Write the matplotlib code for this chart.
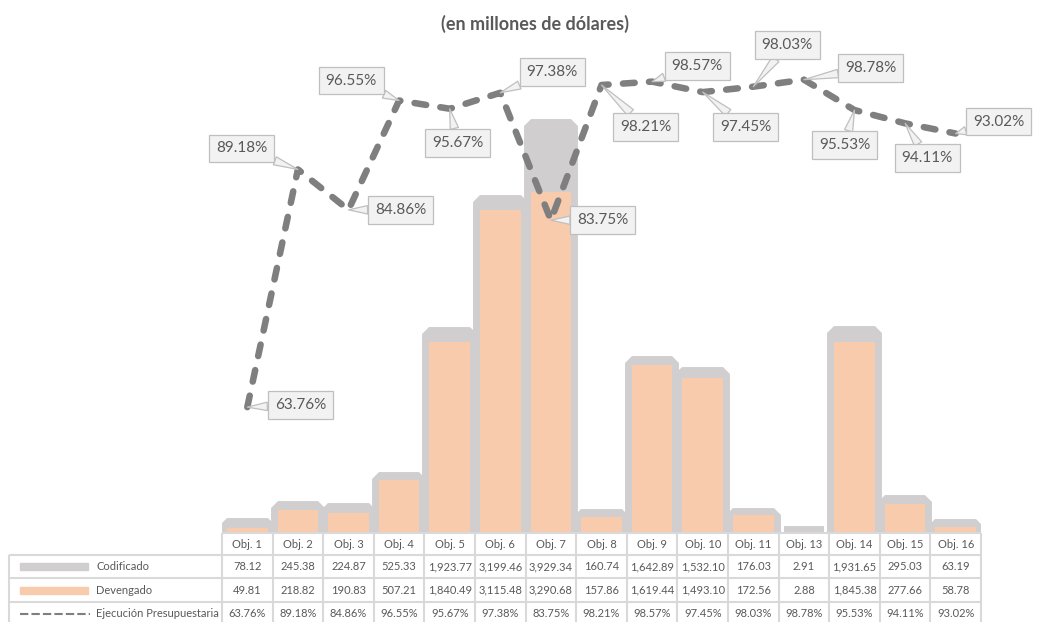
import numpy as np
import matplotlib.pyplot as plt
from matplotlib.patches import Rectangle

plt.rcParams['font.family'] = ['Lato', 'DejaVu Sans']

# datos del grafico
objetivos = ['Obj. 1', 'Obj. 2', 'Obj. 3', 'Obj. 4', 'Obj. 5', 'Obj. 6', 'Obj. 7', 'Obj. 8',
             'Obj. 9', 'Obj. 10', 'Obj. 11', 'Obj. 13', 'Obj. 14', 'Obj. 15', 'Obj. 16']
codificado = [78.12, 245.38, 224.87, 525.33, 1923.77, 3199.46, 3929.34, 160.74,
              1642.89, 1532.10, 176.03, 2.91, 1931.65, 295.03, 63.19]
devengado = [49.81, 218.82, 190.83, 507.21, 1840.49, 3115.48, 3290.68, 157.86,
             1619.44, 1493.10, 172.56, 2.88, 1845.38, 277.66, 58.78]
ejecucion = [63.76, 89.18, 84.86, 96.55, 95.67, 97.38, 83.75, 98.21,
             98.57, 97.45, 98.03, 98.78, 95.53, 94.11, 93.02]

# desplazamiento de cada etiqueta respecto a su punto (pixeles)
desp_etiquetas = [(53, 2), (-56, 21), (52, 0), (-48, 20), (8, -34), (52, 21), (52, 0),
                  (44, -42), (45, 16), (43, -35), (34, 42), (67, 12), (-10, -35),
                  (22, -35), (43, 12)]

W, H = 1044, 622
GRIS_TXT = '#595959'
GRIS_BARRA = '#d0cece'
NARANJA = '#f8cbad'
GRIS_LINEA = '#7f7f7f'
GRIS_BORDE = '#d9d9d9'

n = len(objetivos)
x = np.arange(n)

fig = plt.figure(figsize=(W / 100, H / 100), dpi=100)

# area del grafico
izq, base, ancho = 222, 533, 759
ax = fig.add_axes([izq / W, (H - base) / H, ancho / W, base / H])
ax.bar(x, codificado, width=0.8, color=GRIS_BARRA, edgecolor=GRIS_BARRA,
       linewidth=10, joinstyle='bevel', zorder=1)
ax.bar(x, devengado, width=0.8, color=NARANJA, linewidth=0, zorder=2)
ax.set_xlim(-0.5, n - 0.5)
ax.set_ylim(0, 5145)
ax.axis('off')

ax2 = ax.twinx()
ax2.plot(x, ejecucion, color=GRIS_LINEA, lw=4.7, dashes=(1.8, 2.2),
         dash_capstyle='round', zorder=3)
ax2.set_ylim(50.3, 107.3)
ax2.axis('off')

for xi, v, (dx, dy) in zip(x, ejecucion, desp_etiquetas):
    ax2.annotate(f'{v:.2f}%', xy=(xi, v), xytext=(dx, dy), textcoords='offset pixels',
                 ha='center', va='center', fontsize=11, color=GRIS_TXT, zorder=5,
                 annotation_clip=False,
                 bbox=dict(boxstyle='square,pad=0.45', fc='#f2f2f2', ec='#bfbfbf', lw=0.9),
                 arrowprops=dict(arrowstyle='wedge,tail_width=0.55', fc='#f2f2f2',
                                 ec='#bfbfbf', lw=0.9, shrinkA=0, shrinkB=0))

fig.text(535 / W, 1 - 24 / H, '(en millones de dólares)', fontsize=13,
         fontweight='bold', color=GRIS_TXT, ha='center', va='center')

# tabla de datos
alto_tabla = 92
tab = fig.add_axes([izq / W, (H - base - alto_tabla) / H, ancho / W, alto_tabla / H])
tab.set_xlim(-0.5, n - 0.5)
tab.set_ylim(alto_tabla, 0)
tab.axis('off')

ancho_col = ancho / n
px2x = lambda px: -0.5 + (px - izq) / ancho_col
x_ley = px2x(9)
bordes_col = np.arange(n + 1) - 0.5
filas = [0, 22, 45, 69, 92]
kw_borde = dict(color=GRIS_BORDE, lw=1.5, clip_on=False, solid_capstyle='butt')

tab.plot([bordes_col[0], bordes_col[-1]], [0, 0], **kw_borde)
for yb in filas[1:]:
    tab.plot([x_ley, bordes_col[-1]], [yb, yb], **kw_borde)
for xb in bordes_col:
    tab.plot([xb, xb], [0, alto_tabla], **kw_borde)
tab.plot([x_ley, x_ley], [filas[1], alto_tabla], **kw_borde)

centros = [(filas[i] + filas[i + 1]) / 2 for i in range(4)]
kw_txt = dict(ha='center', va='center', fontsize=8, color=GRIS_TXT, clip_on=False)
for i in range(n):
    tab.text(x[i], centros[0], objetivos[i], **kw_txt)
    tab.text(x[i], centros[1], f'{codificado[i]:,.2f}', **kw_txt)
    tab.text(x[i], centros[2], f'{devengado[i]:,.2f}', **kw_txt)
    tab.text(x[i], centros[3], f'{ejecucion[i]:.2f}%', **kw_txt)

# leyenda dentro de la tabla
x0, x1 = px2x(20), px2x(88)
tab.add_patch(Rectangle((x0, centros[1] - 3.5), x1 - x0, 7, color=GRIS_BARRA, clip_on=False))
tab.add_patch(Rectangle((x0, centros[2] - 3.5), x1 - x0, 7, color=NARANJA, clip_on=False))
tab.plot([x0, px2x(90)], [centros[3], centros[3]], color=GRIS_LINEA, lw=1.5,
         dashes=(4, 1.5), clip_on=False)
kw_ley = dict(ha='left', va='center', fontsize=8, color=GRIS_TXT, clip_on=False)
tab.text(px2x(96), centros[1], 'Codificado', **kw_ley)
tab.text(px2x(96), centros[2], 'Devengado', **kw_ley)
tab.text(px2x(96), centros[3], 'Ejecución Presupuestaria', **kw_ley)

fig.savefig('out.png', dpi=100)
